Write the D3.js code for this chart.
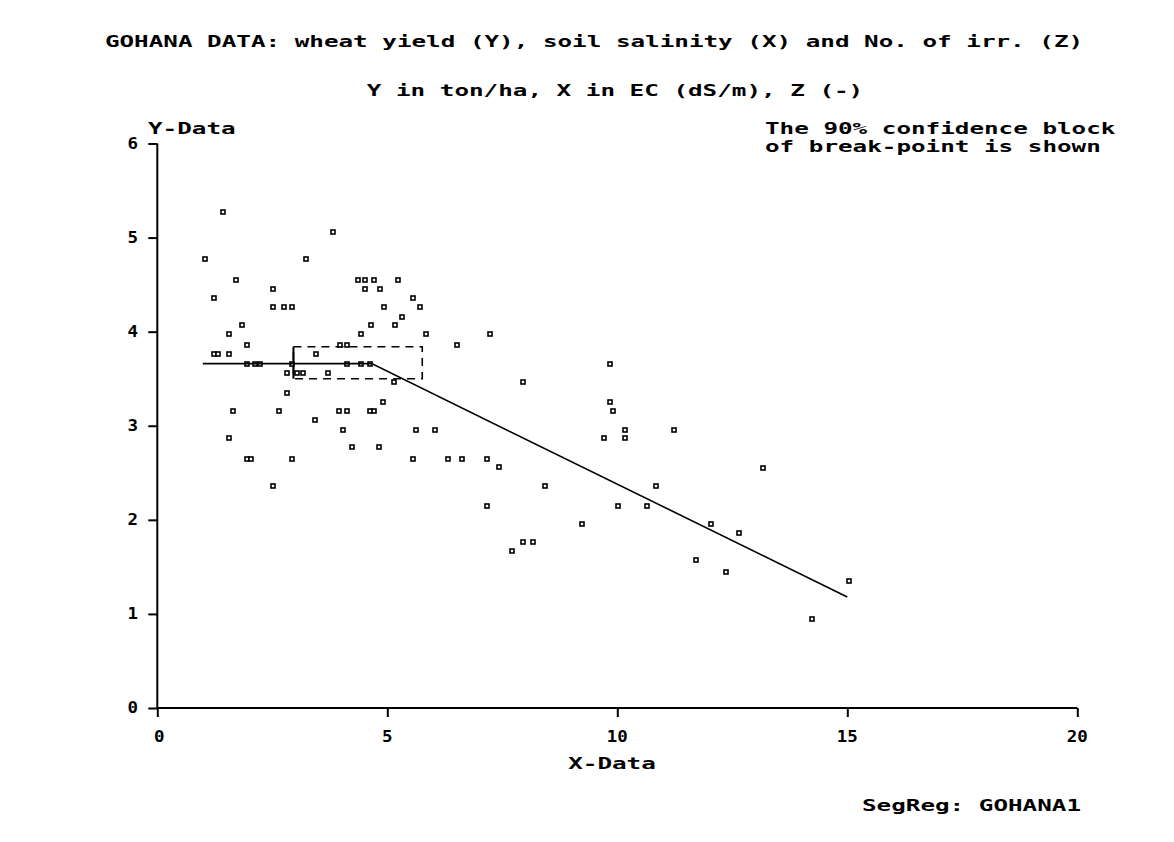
<!DOCTYPE html>
<html><head><meta charset="utf-8">
<script src="https://cdn.jsdelivr.net/npm/d3@7"></script>
<style>
html,body{margin:0;padding:0;background:#fff;}
svg text{font-family:"DejaVu Sans Mono","Liberation Mono",monospace;font-weight:bold;fill:#000;}
</style></head>
<body>
<svg id="chart" width="1174" height="842"></svg>
<script>
// ---- data ----
const xData = [1.43,1.04,1.72,2.52,1.24,2.52,2.75,2.92,1.84,1.56,1.96,1.23,1.31,1.56,
  1.96,2.13,2.24,2.92,4.12,4.43,4.63,
  2.83,3.03,3.16,3.72,2.83,1.64,2.64,1.55,1.96,2.04,2.92,2.52,
  5.15,4.91,3.96,4.12,4.63,4.71,3.43,4.04,5.63,6.04,4.23,4.83,5.56,6.33,
  3.83,3.23,4.36,4.52,4.72,5.24,4.52,4.84,5.56,4.92,5.72,5.32,4.64,5.16,4.43,5.84,3.97,4.12,3.44,
  7.24,6.52,9.84,7.96,9.84,9.91,9.72,6.63,7.16,7.43,8.43,7.16,10.02,9.24,7.96,8.16,7.72,
  10.16,10.16,11.24,13.16,10.84,10.64,12.04,12.65,11.72,12.36,15.04,14.24];
const yData = [5.27,4.77,4.55,4.45,4.36,4.26,4.26,4.26,4.07,3.97,3.86,3.76,3.76,3.76,
  3.66,3.66,3.66,3.66,3.66,3.66,3.66,
  3.56,3.56,3.56,3.56,3.35,3.16,3.16,2.87,2.65,2.65,2.65,2.36,
  3.47,3.25,3.16,3.16,3.16,3.16,3.06,2.96,2.96,2.96,2.77,2.77,2.65,2.65,
  5.06,4.77,4.55,4.55,4.55,4.55,4.45,4.45,4.36,4.26,4.26,4.16,4.07,4.07,3.97,3.97,3.86,3.86,3.76,
  3.97,3.86,3.66,3.47,3.25,3.16,2.87,2.65,2.65,2.56,2.36,2.15,2.15,1.96,1.76,1.76,1.67,
  2.96,2.87,2.96,2.55,2.36,2.15,1.96,1.86,1.57,1.45,1.35,0.95];
// segmented regression line (break-point at x = 4.66)
const lineX = [0.99, 4.66, 15.0];
const lineY = [3.66, 3.66, 1.18];
// 90% confidence block of the break-point
const blockX = [2.96, 5.76];
const blockY = [3.50, 3.84];
const xTicks = [0, 5, 10, 15, 20];
const yTicks = [0, 1, 2, 3, 4, 5, 6];
const title1 = "GOHANA DATA: wheat yield (Y), soil salinity (X) and No. of irr. (Z)";
const title2 = "Y in ton/ha, X in EC (dS/m), Z (-)";
const note1 = "The 90% confidence block";
const note2 = "of break-point is shown";

const svg = d3.select("#chart");
const x = d3.scaleLinear().domain([0, 20]).range([157.3, 1077.3]);
const y = d3.scaleLinear().domain([0, 6]).range([708, 143.5]);
const CW = 14.6; // char width of the bitmap-style font

function txt(s, px, py, anchor, fs) {
  const len = s.length * CW;
  let xx = px;
  if (anchor === "middle") xx = px - len / 2;
  if (anchor === "end") xx = px - len;
  return svg.append("text").attr("x", xx).attr("y", py)
    .attr("font-size", fs || 15)
    .attr("textLength", len).attr("lengthAdjust", "spacingAndGlyphs")
    .text(s);
}

txt(title1, 594, 47, "middle");
txt(title2, 615, 96, "middle");
txt("Y-Data", 148, 134, "start");
txt(note1, 765, 134, "start");
txt(note2, 765, 152, "start");
txt("X-Data", 612, 769, "middle");
txt("SegReg: GOHANA1", 1081, 811, "end");

// axes
const yAxis = d3.axisLeft(y).tickValues(yTicks).tickSize(9).tickFormat("");
const xAxis = d3.axisBottom(x).tickValues(xTicks).tickSize(9).tickFormat("");
const gy = svg.append("g").attr("transform", `translate(${x(0)},0)`).call(yAxis);
const gx = svg.append("g").attr("transform", `translate(0,${y(0)})`).call(xAxis);
[gx, gy].forEach(g => {
  g.select(".domain").remove();
  g.selectAll("line").attr("stroke", "#000").attr("stroke-width", 2);
});
svg.append("line").attr("x1", x(0)).attr("x2", x(0)).attr("y1", y(6)).attr("y2", y(0))
  .attr("stroke", "#000").attr("stroke-width", 2);
svg.append("line").attr("x1", x(0)).attr("x2", x(20)).attr("y1", y(0)).attr("y2", y(0))
  .attr("stroke", "#000").attr("stroke-width", 2);

yTicks.forEach(t => {
  const s = String(t);
  svg.append("text").attr("x", 138 - s.length * CW * 0.72).attr("y", y(t) + 5)
    .attr("font-size", 15).attr("textLength", s.length * CW * 0.72)
    .attr("lengthAdjust", "spacingAndGlyphs").text(s);
});
xTicks.forEach(t => {
  const s = String(t);
  const w = s.length * CW * 0.72;
  svg.append("text").attr("x", x(t) - w / 2 + (t === 0 ? 2 : 0)).attr("y", 742)
    .attr("font-size", 15).attr("textLength", w)
    .attr("lengthAdjust", "spacingAndGlyphs").text(s);
});

// confidence block
svg.append("rect")
  .attr("x", x(blockX[0])).attr("y", y(blockY[1]))
  .attr("width", x(blockX[1]) - x(blockX[0])).attr("height", y(blockY[0]) - y(blockY[1]))
  .attr("fill", "none").attr("stroke", "#000").attr("stroke-width", 1.6)
  .attr("stroke-dasharray", "8,6");
svg.append("line").attr("x1", x(blockX[0])).attr("x2", x(blockX[0]))
  .attr("y1", y(blockY[1])).attr("y2", y(blockY[0]))
  .attr("stroke", "#000").attr("stroke-width", 2);

// points
svg.append("g").selectAll("rect").data(xData.map((d, i) => [d, yData[i]])).join("rect")
  .attr("x", d => Math.round(x(d[0])) - 2).attr("y", d => Math.round(y(d[1])) - 2)
  .attr("width", 4).attr("height", 4)
  .attr("fill", "#fff").attr("stroke", "#000").attr("stroke-width", 1.6);

// regression line
const line = d3.line().x(d => x(d[0])).y(d => y(d[1]));
svg.append("path").datum(lineX.map((d, i) => [d, lineY[i]]))
  .attr("d", line).attr("fill", "none").attr("stroke", "#000").attr("stroke-width", 1.6);
</script>
</body></html>
